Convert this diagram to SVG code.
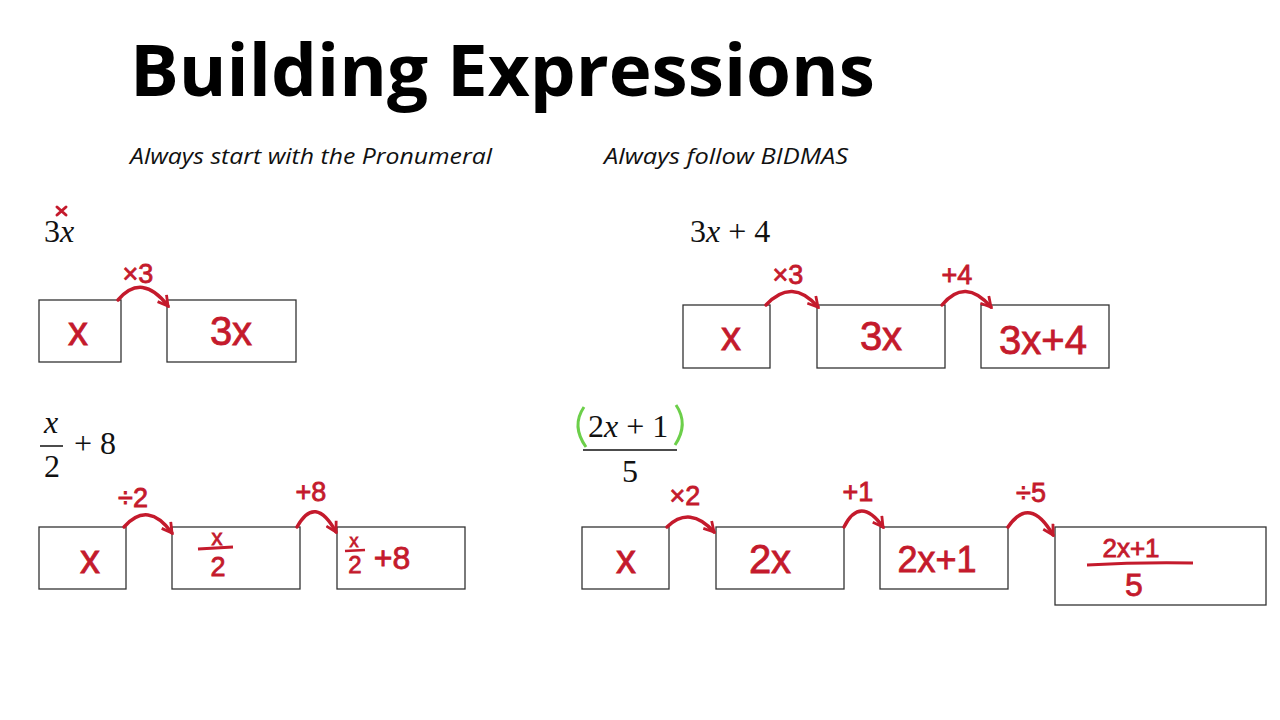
<svg xmlns="http://www.w3.org/2000/svg" width="1280" height="720" viewBox="0 0 1280 720">
<defs>
<style>
.box{fill:#fff;stroke:#333;stroke-width:1.3}
.hand{fill:#c41a2c;stroke:#c41a2c;stroke-width:0.8;font-family:"Liberation Sans",Arial,sans-serif;text-anchor:middle}
.hl{font-size:27px}
.hb{font-size:40px}
.hs{font-size:22px}
.math{fill:#111;font-family:"Liberation Serif","Times New Roman",serif;font-size:32px}
.conn{fill:none;stroke:#c41a2c;stroke-width:3.5;stroke-linecap:round}
.sub{font-family:"Open Sans","Liberation Sans",sans-serif;font-style:italic;font-size:22px;fill:#111}
</style>
<marker id="ah" viewBox="0 0 10 10" refX="8" refY="5" markerWidth="4" markerHeight="4" orient="auto" markerUnits="strokeWidth">
<path d="M1,1 L8,5 L1,9" fill="none" stroke="#c41a2c" stroke-width="2"/>
</marker>
</defs>
<rect width="1280" height="720" fill="#fff"/>
<text x="130" y="96" font-family="Open Sans, Liberation Sans, sans-serif" font-weight="bold" font-size="72" textLength="745" lengthAdjust="spacingAndGlyphs" fill="#000">Building Expressions</text>
<text class="sub" x="130" y="164" textLength="362" lengthAdjust="spacingAndGlyphs">Always start with the Pronumeral</text>
<text class="sub" x="604" y="164" textLength="244" lengthAdjust="spacingAndGlyphs">Always follow BIDMAS</text>

<g id="expr-3x">
<text class="math" x="44" y="242">3<tspan font-style="italic">x</tspan></text>
<path d="M57,207 L66,215 M66,207 L57,215" stroke="#c41a2c" stroke-width="3" stroke-linecap="round"/>
</g>
<g id="expr-3x4"><text class="math" x="690" y="242">3<tspan font-style="italic">x</tspan> + 4</text></g>
<g id="expr-x2-8">
<text class="math" x="44" y="433" font-style="italic">x</text>
<line x1="40" y1="446" x2="63" y2="446" stroke="#111" stroke-width="1.5"/>
<text class="math" x="44" y="477">2</text>
<text class="math" x="74" y="454">+ 8</text>
</g>
<g id="expr-2x1-5">
<text class="math" x="588" y="437">2<tspan font-style="italic">x</tspan> + 1</text>
<line x1="583" y1="450" x2="677" y2="450" stroke="#111" stroke-width="1.5"/>
<text class="math" x="622" y="482">5</text>
<path d="M584,407 Q571,426 586,447" fill="none" stroke="#6ccf4a" stroke-width="3"/>
<path d="M676,405 Q689,424 675,445" fill="none" stroke="#6ccf4a" stroke-width="3"/>
</g>

<g id="n1a"><rect class="box" x="39" y="300" width="82" height="62"/><text class="hand hb" x="78" y="345">x</text></g>
<g id="n1b"><rect class="box" x="167" y="300" width="129" height="62"/><text class="hand hb" x="231" y="345">3x</text></g>

<g id="n2a"><rect class="box" x="683" y="305" width="87" height="63"/><text class="hand hb" x="731" y="350">x</text></g>
<g id="n2b"><rect class="box" x="817" y="305" width="128" height="63"/><text class="hand hb" x="881" y="350">3x</text></g>
<g id="n2c"><rect class="box" x="981" y="305" width="128" height="63"/><text class="hand hb" x="1043" y="354">3x+4</text></g>

<g id="n3a"><rect class="box" x="39" y="527" width="87" height="62"/><text class="hand hb" x="90" y="573">x</text></g>
<g id="n3b"><rect class="box" x="172" y="527" width="128" height="62"/>
<text class="hand hs" x="217" y="545">x</text><line x1="198" y1="549" x2="233" y2="547" stroke="#c41a2c" stroke-width="3"/><text class="hand" font-size="27" x="218" y="576">2</text></g>
<g id="n3c"><rect class="box" x="337" y="527" width="128" height="62"/>
<text class="hand" font-size="18" x="354" y="547">x</text><line x1="345" y1="551" x2="365" y2="550" stroke="#c41a2c" stroke-width="2.5"/><text class="hand" font-size="24" x="355" y="573">2</text><text class="hand" font-size="32" x="392" y="569">+8</text></g>

<g id="n4a"><rect class="box" x="582" y="527" width="87" height="62"/><text class="hand hb" x="626" y="573">x</text></g>
<g id="n4b"><rect class="box" x="716" y="527" width="128" height="62"/><text class="hand hb" x="770" y="573">2x</text></g>
<g id="n4c"><rect class="box" x="880" y="527" width="128" height="62"/><text class="hand" font-size="36" x="937" y="572">2x+1</text></g>
<g id="n4d"><rect class="box" x="1055" y="527" width="211" height="78"/>
<text class="hand" font-size="26" x="1131" y="557">2x+1</text><path d="M1087,565 Q1140,562 1193,563" fill="none" stroke="#c41a2c" stroke-width="3"/><text class="hand" font-size="32" x="1134" y="596">5</text></g>

<g id="connectors">
<path class="conn" marker-end="url(#ah)" d="M118,300 Q142,272 168,306"/>
<text class="hand hl" x="138" y="283">×3</text>
<path class="conn" marker-end="url(#ah)" d="M766,305 Q792,277 818,307"/>
<text class="hand hl" x="788" y="284">×3</text>
<path class="conn" marker-end="url(#ah)" d="M942,305 Q965,277 991,307"/>
<text class="hand hl" x="957" y="284">+4</text>
<path class="conn" marker-end="url(#ah)" d="M124,527 Q148,500 172,533"/>
<text class="hand hl" x="133" y="507">÷2</text>
<path class="conn" marker-end="url(#ah)" d="M297,527 Q315,494 336,532"/>
<text class="hand hl" x="311" y="501">+8</text>
<path class="conn" marker-end="url(#ah)" d="M667,527 Q690,505 714,532"/>
<text class="hand hl" x="685" y="505">×2</text>
<path class="conn" marker-end="url(#ah)" d="M844,527 Q860,495 883,527"/>
<text class="hand hl" x="858" y="501">+1</text>
<path class="conn" marker-end="url(#ah)" d="M1008,527 Q1030,495 1053,535"/>
<text class="hand hl" x="1031" y="502">÷5</text>
</g>
</svg>
